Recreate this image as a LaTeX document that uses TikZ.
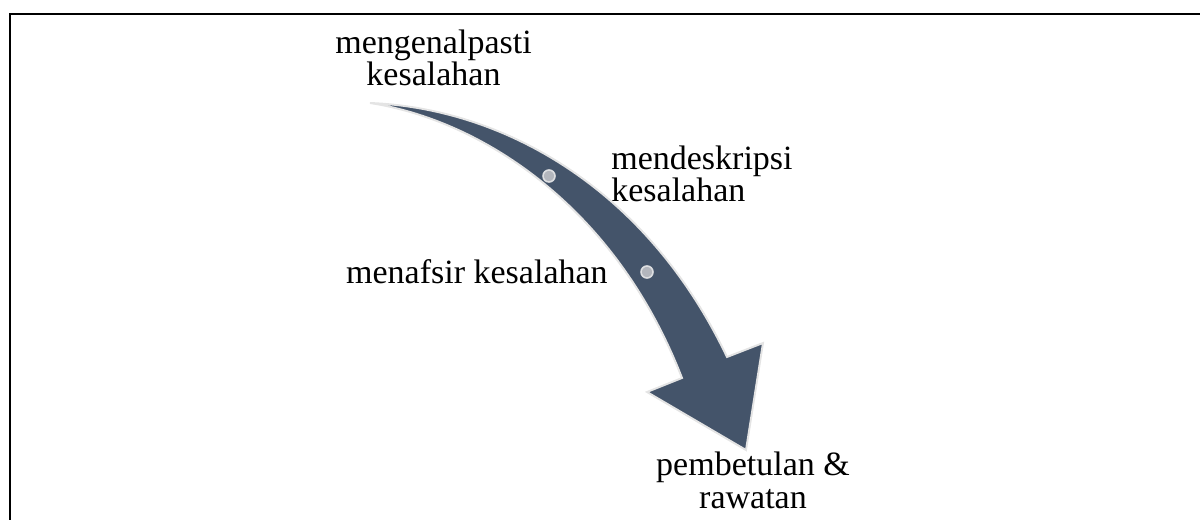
\documentclass[tikz,border=0pt]{standalone}
\usepackage{fontspec}
\setmainfont{Liberation Serif}
\definecolor{arrowfill}{HTML}{44546A}
\definecolor{arrowedge}{HTML}{E4E4E4}
\definecolor{dotfill}{HTML}{B3B6BD}
\definecolor{dotedge}{HTML}{DDDEE1}
\tikzset{
  steplabel/.style={inner sep=0pt, font=\fontsize{19.35pt}{18.7pt}\selectfont},
  stepdot/.style={fill=dotfill, draw=dotedge, line width=0.9pt}
}
\begin{document}
\begin{tikzpicture}[x=0.02cm, y=-0.02cm]

\useasboundingbox (0,0) rectangle (1200,520);

% Bingkai
\draw[line width=1.1pt] (10,520) -- (10,14) -- (1200,14);

% Anak panah melengkung
\filldraw[fill=arrowfill, draw=arrowedge, line width=1.1pt, line join=miter]
  (370,103) .. controls (500,108) and (645,185) .. (727,357)
  -- (763,343) -- (746,450) -- (647,392) -- (682,378)
  .. controls (615,205) and (480,120) .. cycle;

% Titik
\filldraw[stepdot] (549,176) circle[radius=0.12cm];
\filldraw[stepdot] (647,272) circle[radius=0.12cm];

% Label
\node[steplabel, align=center, anchor=base] (kenal) at (433.5,86)
  {mengenalpasti\\kesalahan};
\node[steplabel, align=left, anchor=base west] (deskripsi) at (611,202)
  {mendeskripsi\\kesalahan};
\node[steplabel, anchor=base east] (tafsir) at (608,283) {menafsir kesalahan};
\node[steplabel, align=center, anchor=base] (betul) at (753,508)
  {pembetulan \&\\rawatan};

\end{tikzpicture}
\end{document}
